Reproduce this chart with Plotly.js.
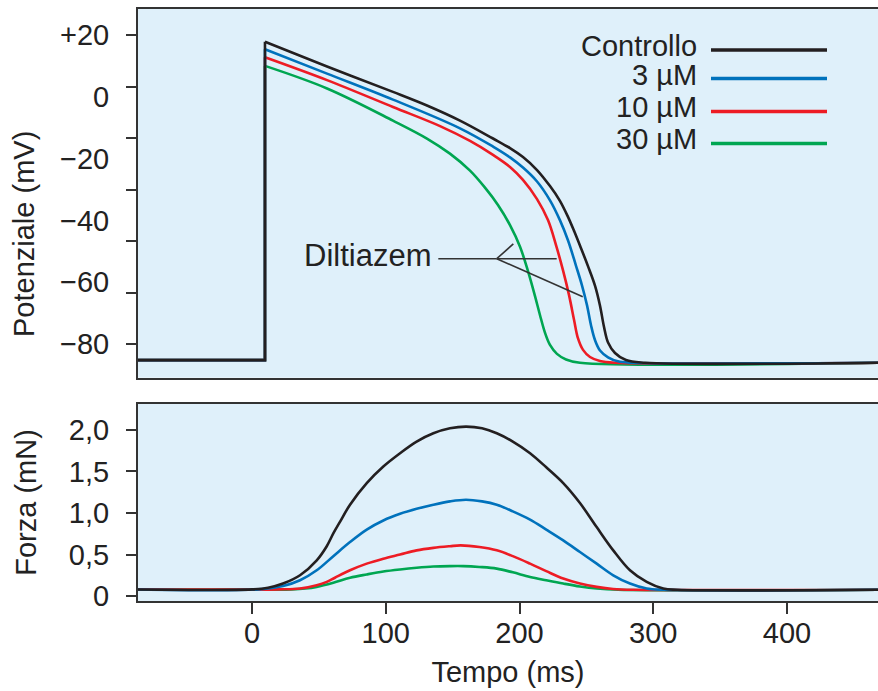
<!DOCTYPE html>
<html><head><meta charset="utf-8">
<script src="https://cdn.plot.ly/plotly-3.0.1.min.js"></script>
<style>html,body{margin:0;padding:0;background:#fff}#chart{width:878px;height:691px}</style>
</head><body><div id="chart"></div>
<script>
// ---- data ----
const seriesNames = ['Controllo', '3 µM', '10 µM', '30 µM'];
const seriesColors = ['#231f20', '#0072bc', '#ed1c24', '#00a651'];

// Action potential (top panel): time (ms) and membrane potential (mV)
const apTimeCtrl = [-90, 9.7, 9.7, 56.1, 105.4, 130.8, 155.5, 180.2, 192.9, 202.6, 213.1, 222.8, 230.0, 236.0, 241.0, 246.0, 251.2, 256.5, 260.2, 263.2, 266.2, 271.4, 279.6, 293.8, 470];
const apVoltCtrl = [-85.2, -85.2, 17.8, 9.8, 1.6, -2.8, -7.7, -13.5, -16.6, -19.5, -23.7, -28.9, -33.5, -38.6, -43.6, -49.0, -54.8, -61.2, -67.6, -74.5, -79.5, -82.9, -85.2, -86.05, -86.05];
const apTime3 = [-90, 9.7, 9.7, 56.1, 105.4, 155.5, 180.2, 192.9, 202.6, 213.1, 222.8, 230.3, 236.3, 242.2, 246.7, 250.5, 253.5, 256.5, 260.2, 266.2, 273.6, 284.1, 470];
const apVolt3 = [-85.2, -85.2, 15.4, 7.5, -0.9, -10.2, -16.1, -19.6, -22.9, -27.4, -33.5, -40.0, -46.5, -54.6, -61.0, -67.5, -74.0, -78.8, -82.1, -84.3, -85.6, -86.05, -86.05];
const apTime10 = [-90, 9.7, 9.7, 56.1, 105.4, 140.6, 163.0, 180.2, 192.9, 202.6, 213.1, 221.3, 227.3, 232.5, 237.0, 240.8, 243.7, 247.5, 252.7, 260.2, 271.4, 470];
const apVolt10 = [-85.2, -85.2, 12.8, 5.4, -3.3, -9.5, -14.3, -18.8, -22.7, -26.9, -33.1, -39.9, -48.0, -56.1, -64.1, -72.2, -78.1, -81.9, -84.2, -85.5, -86.05, -86.05];
const apTime30 = [-90, 9.7, 9.7, 56.1, 105.4, 130.8, 148.0, 163.0, 174.2, 183.9, 192.9, 200.4, 206.4, 211.6, 215.3, 219.1, 222.8, 228.0, 234.8, 245.2, 470];
const apVolt30 = [-85.2, -85.2, 10.0, 2.7, -7.7, -13.5, -18.4, -23.9, -29.4, -35.0, -41.5, -48.5, -56.5, -64.5, -70.6, -76.4, -80.3, -83.2, -85.0, -86.05, -86.05];

// Force (bottom panel): time (ms) and force (mN)
const fTimeCtrl = [-90, 0, 12, 23.2, 35.9, 48.4, 55.9, 61, 66, 73.3, 85.8, 98.2, 110.7, 123.1, 135.6, 148, 160, 172, 183, 195, 207.9, 220, 232.7, 245.2, 257.7, 270.1, 282.6, 295.1, 307.5, 318, 470];
const forceCtrl = [0.08, 0.08, 0.10, 0.15, 0.25, 0.43, 0.60, 0.76, 0.90, 1.10, 1.36, 1.56, 1.72, 1.86, 1.96, 2.02, 2.04, 2.02, 1.96, 1.86, 1.72, 1.55, 1.36, 1.12, 0.83, 0.55, 0.31, 0.17, 0.09, 0.075, 0.075];
const fTime3 = [-90, 5, 23.2, 35.9, 48.4, 60.8, 73.3, 85.8, 98.2, 110.7, 123.1, 135.6, 148, 160, 172, 183, 195, 207.9, 220, 232.7, 245.2, 257.7, 270.1, 282.6, 295.1, 307.5, 470];
const force3 = [0.08, 0.08, 0.12, 0.19, 0.31, 0.48, 0.65, 0.80, 0.91, 0.99, 1.05, 1.10, 1.14, 1.16, 1.14, 1.10, 1.02, 0.92, 0.80, 0.67, 0.53, 0.39, 0.25, 0.15, 0.09, 0.075, 0.075];
const fTime10 = [-90, 20, 35.9, 48.4, 55.9, 62, 73.3, 85.8, 98.2, 110.7, 123.1, 135.6, 148, 156, 170, 183, 195, 207.9, 220, 232.7, 245.2, 257.7, 270, 285, 470];
const force10 = [0.08, 0.08, 0.09, 0.13, 0.17, 0.22, 0.31, 0.39, 0.45, 0.50, 0.55, 0.58, 0.60, 0.61, 0.59, 0.55, 0.48, 0.39, 0.30, 0.21, 0.15, 0.11, 0.085, 0.075, 0.075];
const fTime30 = [-90, 30, 40, 48.4, 60.8, 73.3, 85.8, 98.2, 110.7, 123.1, 135.6, 148, 158, 170, 183, 195, 207.9, 220, 232.7, 245.2, 257.7, 273.6, 470];
const force30 = [0.08, 0.08, 0.09, 0.11, 0.16, 0.22, 0.26, 0.295, 0.32, 0.34, 0.355, 0.36, 0.36, 0.35, 0.33, 0.285, 0.23, 0.19, 0.15, 0.115, 0.09, 0.075, 0.075];

const apTimes = [apTimeCtrl, apTime3, apTime10, apTime30];
const apVolts = [apVoltCtrl, apVolt3, apVolt10, apVolt30];
const fTimes = [fTimeCtrl, fTime3, fTime10, fTime30];
const forces = [forceCtrl, force3, force10, force30];

// tick labels
const vTickVals = [20, 0, -20, -40, -60, -80];
const vTickText = ['+20', '0', '\u221220', '\u221240', '\u221260', '\u221280'];
const vTickMarks = [20, 3.33, -13.33, -30, -46.67, -63.33, -80];
const fTickVals = [0, 0.5, 1, 1.5, 2];
const fTickText = ['0', '0,5', '1,0', '1,5', '2,0'];
const tTickVals = [0, 100, 200, 300, 400];

// ---- traces ----
const FONT = 'Liberation Sans, Arial, Helvetica, sans-serif';
const traces = [];
const order = [3, 2, 1, 0];
order.forEach(i => {
  traces.push({x: apTimes[i].slice(0, 3), y: apVolts[i].slice(0, 3), xaxis: 'x', yaxis: 'y', mode: 'lines',
    line: {color: seriesColors[i], width: 2.6, shape: 'linear'}, showlegend: false, hoverinfo: 'skip', name: seriesNames[i]});
  traces.push({x: apTimes[i].slice(2), y: apVolts[i].slice(2), xaxis: 'x', yaxis: 'y', mode: 'lines',
    line: {color: seriesColors[i], width: 2.6, shape: 'spline', smoothing: 1.0}, showlegend: false, name: seriesNames[i]});
});
order.forEach(i => {
  traces.push({x: fTimes[i], y: forces[i], xaxis: 'x2', yaxis: 'y2', mode: 'lines',
    line: {color: seriesColors[i], width: 2.6, shape: 'spline', smoothing: 1.0}, showlegend: false, name: seriesNames[i]});
});

// ---- layout helpers (legend drawn as text + line samples) ----
const L = 138, W = 740, B = 601, H = 592;
const px2x = p => (p - L) / W;
const py2y = p => (B - p) / H;
const legendRowsY = [50, 78.5, 111.5, 143.5];
const shapes = [];
const annotations = [];
seriesNames.forEach((n, i) => {
  shapes.push({type: 'line', xref: 'paper', yref: 'paper', x0: px2x(711), x1: px2x(827),
    y0: py2y(legendRowsY[i]), y1: py2y(legendRowsY[i]), line: {color: seriesColors[i], width: 3.5}});
  annotations.push({xref: 'paper', yref: 'paper', x: px2x(699), y: py2y(legendRowsY[i] - 4), text: n,
    showarrow: false, xanchor: 'right', yanchor: 'middle', font: {family: FONT, size: 29, color: '#222'}});
});
// Diltiazem pointer lines
const ptr = {color: '#333', width: 1.6};
shapes.push({type: 'line', xref: 'x', yref: 'y', x0: 139.3, y0: -52.4, x1: 183, y1: -52.4, line: ptr});
shapes.push({type: 'line', xref: 'x', yref: 'y', x0: 183, y0: -52.4, x1: 195.4, y1: -47.6, line: ptr});
shapes.push({type: 'line', xref: 'x', yref: 'y', x0: 183, y0: -52.4, x1: 227.8, y1: -52.4, line: ptr});
shapes.push({type: 'line', xref: 'x', yref: 'y', x0: 183, y0: -52.4, x1: 247.3, y1: -64.7, line: ptr});
annotations.push({xref: 'x', yref: 'y', x: 135, y: -51.5, text: 'Diltiazem', showarrow: false,
  xanchor: 'right', yanchor: 'middle', font: {family: FONT, size: 31, color: '#222'}});
annotations.push({xref: 'paper', yref: 'paper', x: px2x(24), y: py2y(234), text: 'Potenziale (mV)', textangle: -90,
  showarrow: false, xanchor: 'center', yanchor: 'middle', font: {family: FONT, size: 29, color: '#222'}});

const axisCommon = {showgrid: false, zeroline: false, showline: true, linecolor: '#333', linewidth: 2,
  tickfont: {family: FONT, size: 29, color: '#222'}, tickcolor: '#333', tickwidth: 2, fixedrange: true};

const layout = {
  width: 878, height: 691,
  margin: {l: 138, r: 0, t: 9, b: 90},
  paper_bgcolor: '#ffffff', plot_bgcolor: '#dff0fa',
  showlegend: false,
  font: {family: FONT, size: 29, color: '#222'},
  xaxis: Object.assign({}, axisCommon, {domain: [0, 1], anchor: 'y', range: [-85.23, 468.04], mirror: true,
    showticklabels: false, ticks: ''}),
  yaxis: Object.assign({}, axisCommon, {domain: [0.3772, 1], anchor: 'x', range: [-90.9, 28.41],
    tickmode: 'array', tickvals: vTickVals, ticktext: vTickText, ticks: 'outside', ticklen: 10,
    tickcolor: 'rgba(0,0,0,0)', ticklabelstandoff: 11,
    minor: {tickmode: 'array', tickvals: vTickMarks, ticks: 'outside', ticklen: 10, tickwidth: 2, tickcolor: '#333', showgrid: false}}),
  xaxis2: Object.assign({}, axisCommon, {domain: [0, 1], anchor: 'y2', range: [-85.23, 468.04], mirror: true,
    tickmode: 'array', tickvals: tTickVals, ticks: 'outside', ticklen: 11, ticklabelstandoff: -6,
    title: {text: 'Tempo (ms)', standoff: 14, font: {family: FONT, size: 29, color: '#222'}}}),
  yaxis2: Object.assign({}, axisCommon, {domain: [0, 0.3328], anchor: 'x2', range: [-0.06, 2.313],
    tickmode: 'array', tickvals: fTickVals, ticktext: fTickText, ticks: 'outside', ticklen: 10, ticklabelstandoff: 11,
    title: {text: 'Forza (mN)', standoff: 24, font: {family: FONT, size: 29, color: '#222'}}}),
  shapes: shapes,
  annotations: annotations
};

Plotly.newPlot('chart', traces, layout, {displayModeBar: false, staticPlot: true});
</script></body></html>
